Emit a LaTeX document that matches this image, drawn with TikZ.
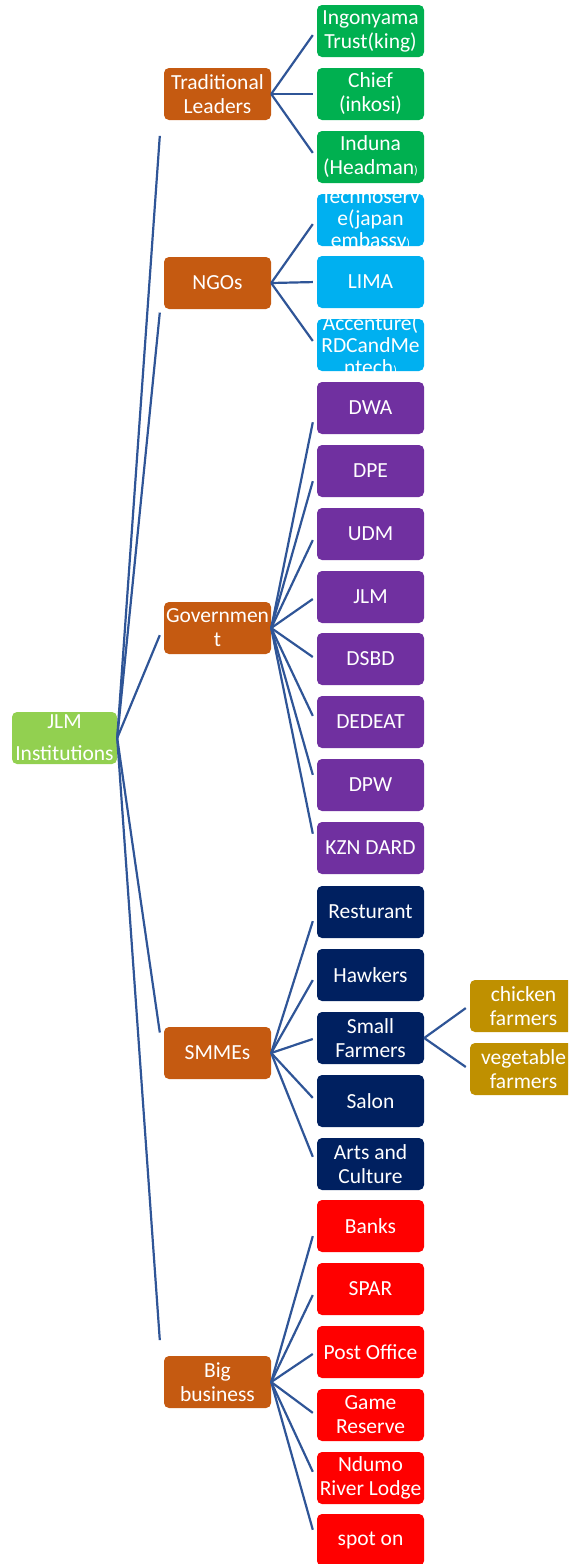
\documentclass[tikz,border=0pt]{standalone}
\usepackage{fontspec}
\setmainfont{Carlito}
\usetikzlibrary{calc}
\definecolor{catc}{HTML}{C55A11}
\definecolor{rootc}{HTML}{92D050}
\definecolor{tradc}{HTML}{00B050}
\definecolor{ngoc}{HTML}{00B0F0}
\definecolor{govc}{HTML}{7030A0}
\definecolor{smec}{HTML}{002060}
\definecolor{bigc}{HTML}{FF0000}
\definecolor{grdc}{HTML}{BF9000}
\definecolor{linec}{HTML}{2F5597}
\newcommand\linkto[2]{\draw[conn] (#1.east) -- ([xshift=-4pt]$(#2.west)!0.065!(#2.west |- #1.east)$);}
\newcommand\smp{\fontsize{12}{12}\selectfont)}
\begin{document}
\begin{tikzpicture}[x=1pt,y=-1pt,
  bx/.style={rectangle,rounded corners=5pt,minimum width=107pt,minimum height=52pt,inner sep=0pt,
    text=white,align=center,font=\fontsize{21.5}{24}\selectfont},
  cat/.style={bx,fill=catc},
  conn/.style={draw=linec,line width=2.2pt},
  txt/.style={text=white,align=center,inner sep=0pt,font=\fontsize{21.5}{22}\selectfont}]
\path[use as bounding box] (0,0) rectangle (568,1564);
\clip (0,0) rectangle (568,1564);
% root
\node[bx,fill=rootc,minimum width=105pt,font=\fontsize{21.5}{32}\selectfont] (root) at (64.5,738) {JLM\\Institutions};
% categories
\node[cat] (trad) at (217.5,94) {Traditional\\Leaders};
\node[cat] (ngo) at (217.5,283) {NGOs};
\node[cat] (gov) at (217.5,628) {Governmen\\t};
\node[cat] (sme) at (217.5,1053) {SMMEs};
\node[cat] (big) at (217.5,1382) {Big\\business};
% traditional
\node[bx,fill=tradc] (t1) at (370.5,31) {Ingonyama\\Trust(king)};
\node[bx,fill=tradc] (t2) at (370.5,94) {Chief\\(inkosi)};
\node[bx,fill=tradc] (t3) at (370.5,157) {Induna\\(Headman\smp};
% ngos
\node[bx,fill=ngoc] (n1) at (370.5,220) {};
\node[bx,fill=ngoc] (n2) at (370.5,282) {LIMA};
\node[bx,fill=ngoc] (n3) at (370.5,345) {};
\begin{scope}
\clip[rounded corners=5pt] (n1.south west) rectangle (n1.north east);
\node[txt] at (n1) {Technoserv\\e(japan\\embassy\smp};
\end{scope}
\begin{scope}
\clip[rounded corners=5pt] (n3.south west) rectangle (n3.north east);
\node[txt] at (n3) {Accenture(\\RDCandMe\\ntech\smp};
\end{scope}
% government
\node[bx,fill=govc] (g1) at (370.5,408) {DWA};
\node[bx,fill=govc] (g2) at (370.5,471) {DPE};
\node[bx,fill=govc] (g3) at (370.5,534) {UDM};
\node[bx,fill=govc] (g4) at (370.5,597) {JLM};
\node[bx,fill=govc] (g5) at (370.5,659) {DSBD};
\node[bx,fill=govc] (g6) at (370.5,722) {DEDEAT};
\node[bx,fill=govc] (g7) at (370.5,785) {DPW};
\node[bx,fill=govc] (g8) at (370.5,848) {KZN DARD};
% smmes
\node[bx,fill=smec] (s1) at (370.5,912) {Resturant};
\node[bx,fill=smec] (s2) at (370.5,975) {Hawkers};
\node[bx,fill=smec] (s3) at (370.5,1038) {Small\\Farmers};
\node[bx,fill=smec] (s4) at (370.5,1101) {Salon};
\node[bx,fill=smec] (s5) at (370.5,1164) {Arts and\\Culture};
% grandchildren
\node[bx,fill=grdc] (f1) at (523.5,1006) {chicken\\farmers};
\node[bx,fill=grdc] (f2) at (523.5,1069) {vegetable\\farmers};
% big business
\node[bx,fill=bigc] (b1) at (370.5,1226) {Banks};
\node[bx,fill=bigc] (b2) at (370.5,1289) {SPAR};
\node[bx,fill=bigc] (b3) at (370.5,1352) {Post Office};
\node[bx,fill=bigc] (b4) at (370.5,1415) {Game\\Reserve};
\node[bx,fill=bigc] (b5) at (370.5,1478) {Ndumo\\River Lodge};
\node[bx,fill=bigc] (b6) at (370.5,1540) {spot on};
% connectors
\foreach \c in {trad,ngo,gov,sme,big} {\linkto{root}{\c}}
\foreach \c in {t1,t2,t3} {\linkto{trad}{\c}}
\foreach \c in {n1,n2,n3} {\linkto{ngo}{\c}}
\foreach \c in {g1,g2,g3,g4,g5,g6,g7,g8} {\linkto{gov}{\c}}
\foreach \c in {s1,s2,s3,s4,s5} {\linkto{sme}{\c}}
\foreach \c in {f1,f2} {\linkto{s3}{\c}}
\foreach \c in {b1,b2,b3,b4,b5,b6} {\linkto{big}{\c}}
\end{tikzpicture}
\end{document}
